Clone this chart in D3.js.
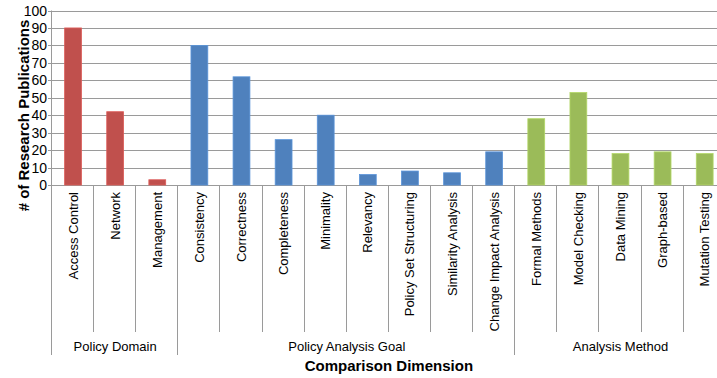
<!DOCTYPE html>
<html>
<head>
<meta charset="utf-8">
<script src="https://cdn.jsdelivr.net/npm/d3@7"></script>
<style>
  body { margin: 0; background: #fff; }
  text { font-family: "Liberation Sans", Arial, sans-serif; fill: #000; }
</style>
</head>
<body>
<div id="chart"></div>
<script>
const categories = [
  "Access Control", "Network", "Management",
  "Consistency", "Correctness", "Completeness", "Minimality", "Relevancy",
  "Policy Set Structuring", "Similarity Analysis", "Change Impact Analysis",
  "Formal Methods", "Model Checking", "Data Mining", "Graph-based", "Mutation Testing"
];
const values = [90, 42, 3, 80, 62, 26, 40, 6, 8, 7, 19, 38, 53, 18, 19, 18];
const groups = ["Policy Domain", "Policy Analysis Goal", "Analysis Method"];
const groupSizes = [3, 8, 5];
const groupColors = ["#C0504D", "#4F81BD", "#9BBB59"];
const yTicks = [0, 10, 20, 30, 40, 50, 60, 70, 80, 90, 100];

const width = 717, height = 378;
const plotLeft = 52, plotTop = 10.5, plotBottom = 185;
const bandW = 42.11;
const plotRight = plotLeft + bandW * categories.length;

const svg = d3.select("#chart").append("svg")
  .attr("width", width).attr("height", height);

const x = d3.scaleBand().domain(categories).range([plotLeft, plotRight]).paddingInner(0).paddingOuter(0);
const y = d3.scaleLinear().domain([0, 100]).range([plotBottom, plotTop]);

// group index per category
const groupOf = [];
groupSizes.forEach((n, g) => { for (let i = 0; i < n; i++) groupOf.push(g); });

// gridlines
svg.append("g").selectAll("line").data(yTicks).join("line")
  .attr("x1", plotLeft - 4).attr("x2", plotRight)
  .attr("y1", d => Math.round(y(d)) + 0.5).attr("y2", d => Math.round(y(d)) + 0.5)
  .attr("stroke", "#9a9a9a").attr("stroke-width", 1);

// y tick labels
svg.append("g").selectAll("text").data(yTicks).join("text")
  .attr("x", 47).attr("y", d => y(d))
  .attr("dy", "0.36em")
  .attr("text-anchor", "end")
  .style("font-size", "14px")
  .text(d => d);

// y axis line
svg.append("line")
  .attr("x1", plotLeft - 0.5).attr("x2", plotLeft - 0.5)
  .attr("y1", plotTop).attr("y2", 355)
  .attr("stroke", "#9a9a9a");

// bars
const barW = bandW / 2.5;
svg.append("g").selectAll("rect").data(categories).join("rect")
  .attr("x", d => x(d) + (bandW - barW) / 2)
  .attr("width", barW)
  .attr("y", (d, i) => y(values[i]))
  .attr("height", (d, i) => y(0) - y(values[i]))
  .attr("fill", (d, i) => groupColors[groupOf[i]])
  .attr("stroke", (d, i) => d3.color(groupColors[groupOf[i]]).brighter(0.4))
  .attr("stroke-width", 0.8);

// category separators
const boundaries = d3.range(1, categories.length + 1);
let cum = 0;
const groupEnds = groupSizes.map(n => (cum += n));
svg.append("g").selectAll("line").data(boundaries).join("line")
  .attr("x1", i => Math.round(plotLeft + i * bandW) - 0.5)
  .attr("x2", i => Math.round(plotLeft + i * bandW) - 0.5)
  .attr("y1", plotBottom)
  .attr("y2", i => groupEnds.includes(i) ? 355 : 332)
  .attr("stroke", "#9a9a9a");

// category labels
svg.append("g").selectAll("text").data(categories).join("text")
  .attr("transform", d => `translate(${x(d) + bandW / 2 + 4.5},192) rotate(-90)`)
  .attr("text-anchor", "end")
  .style("font-size", "13px")
  .text(d => d);

// group labels
let start = 0;
groups.forEach((g, gi) => {
  const x0 = plotLeft + start * bandW;
  const x1 = plotLeft + (start + groupSizes[gi]) * bandW;
  start += groupSizes[gi];
  svg.append("text")
    .attr("x", (x0 + x1) / 2).attr("y", 351)
    .attr("text-anchor", "middle")
    .style("font-size", "13px")
    .text(g);
});

// axis titles
svg.append("text")
  .attr("transform", `translate(29,${(18 + 213) / 2}) rotate(-90)`)
  .attr("text-anchor", "middle")
  .style("font-size", "15px").style("font-weight", "bold")
  .text("# of Research Publications");

svg.append("text")
  .attr("x", (plotLeft + plotRight) / 2).attr("y", 371)
  .attr("text-anchor", "middle")
  .style("font-size", "15px").style("font-weight", "bold")
  .text("Comparison Dimension");
</script>
</body>
</html>
